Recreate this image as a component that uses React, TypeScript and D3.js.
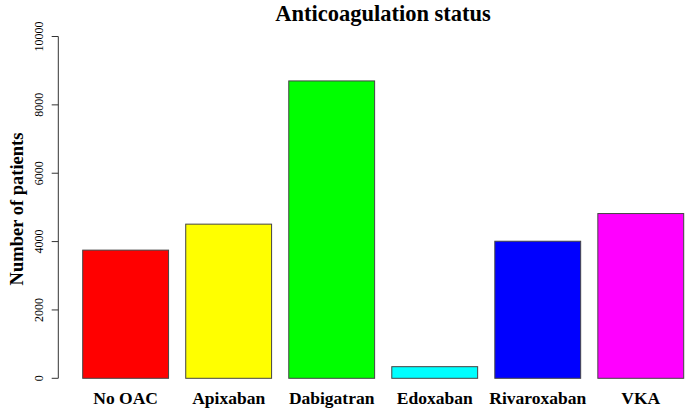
import React from "react";
import * as d3 from "d3";

const categories = ["No OAC", "Apixaban", "Dabigatran", "Edoxaban", "Rivaroxaban", "VKA"];
const values = [3750, 4510, 8700, 340, 4010, 4820];
const colors = ["#ff0000", "#ffff00", "#00ff00", "#00ffff", "#0000ff", "#ff00ff"];
const yTicks = [0, 2000, 4000, 6000, 8000, 10000];

const W = 685;
const H = 410;
const FONT = "'Liberation Serif', 'Times New Roman', serif";

export default function App() {
  // R barplot units: bar i spans [0.2 + 1.2i, 1.2 + 1.2i]
  const x = d3.scaleLinear().domain([0.2, 7.2]).range([82.7, 683.7]);
  const y = d3.scaleLinear().domain([0, 10000]).range([378.3, 36.5]);
  const axisX = 58.3;

  return (
    <svg width={W} height={H} style={{ position: "absolute", left: 0, top: 0, background: "#fff" }}
      fontFamily={FONT}>
      <text x={383} y={20.5} textAnchor="middle" fontWeight="bold" fontSize={22.5}>
        Anticoagulation status
      </text>
      {values.map((v, i) => {
        const x0 = x(0.2 + 1.2 * i);
        const x1 = x(1.2 + 1.2 * i);
        return (
          <rect key={i} x={x0} y={y(v)} width={x1 - x0} height={y(0) - y(v)}
            fill={colors[i]} stroke="#444" strokeWidth={1} />
        );
      })}
      {categories.map((c, i) => (
        <text key={c} x={x(0.7 + 1.2 * i)} y={404.3} textAnchor="middle" fontWeight="bold" fontSize={17.5}>
          {c}
        </text>
      ))}
      <line x1={axisX} x2={axisX} y1={y(0)} y2={y(10000)} stroke="#333" />
      {yTicks.map((t) => (
        <g key={t}>
          <line x1={axisX - 6.6} x2={axisX} y1={y(t)} y2={y(t)} stroke="#333" />
          <text transform={`translate(42.5,${y(t)}) rotate(-90)`} textAnchor="middle" fontSize={12}>
            {t}
          </text>
        </g>
      ))}
      <text transform={`translate(23,209) rotate(-90)`} textAnchor="middle" fontWeight="bold" fontSize={18.5}>
        Number of patients
      </text>
    </svg>
  );
}
